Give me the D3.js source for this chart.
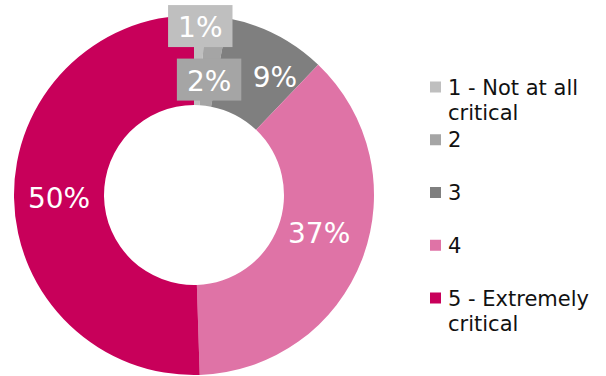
<!DOCTYPE html>
<html>
<head>
<meta charset="utf-8">
<script src="https://cdn.jsdelivr.net/npm/d3@7"></script>
<style>
  html, body { margin: 0; padding: 0; background: #fff; }
  svg { display: block; font-family: "DejaVu Sans", Verdana, sans-serif; }
</style>
</head>
<body>
<svg id="chart" width="606" height="376"></svg>
<script>
// Survey answers: how critical, share of respondents (%)
const categories = ["1 - Not at all critical", "2", "3", "4", "5 - Extremely critical"];
const legendLines = [["1 - Not at all", "critical"], ["2"], ["3"], ["4"], ["5 - Extremely", "critical"]];
const shares = [1, 2, 9, 37, 50];
const colors = ["#bfbfbf", "#a5a5a5", "#7f7f7f", "#df73a6", "#c8005a"];

// Layout
const W = 606, H = 376;
const cx = 194, cy = 195, outerR = 180, innerR = 90, labelR = 135;
const labelFont = 28, legendFont = 21;
// small nudges applied to label positions so crowded labels stay readable
const labelNudge = [[2, -33], [-2, 19.5], [19, 2], [-1, -10.5], [0, 0.5]];
const boxed = [true, true, false, false, false];

const svg = d3.select("#chart");
const g = svg.append("g").attr("transform", `translate(${cx},${cy})`);

const data = categories.map((c, i) => ({ cat: c, value: shares[i], i }));
const pie = d3.pie().value(d => d.value).sort(null);
const arcs = pie(data);
const arc = d3.arc().innerRadius(innerR).outerRadius(outerR);
const labelArc = d3.arc().innerRadius(labelR).outerRadius(labelR);

g.selectAll("path.slice")
  .data(arcs)
  .join("path")
  .attr("class", "slice")
  .attr("d", arc)
  .attr("fill", d => colors[d.data.i]);

// value labels
const labels = g.selectAll("g.lbl")
  .data(arcs)
  .join("g")
  .attr("class", "lbl")
  .attr("transform", d => {
    const [x, y] = labelArc.centroid(d);
    const n = labelNudge[d.data.i];
    return `translate(${x + n[0]},${y + n[1]})`;
  });

labels.append("text")
  .attr("text-anchor", "middle")
  .attr("dy", "0.36em")
  .attr("font-size", labelFont)
  .attr("fill", "#ffffff")
  .text(d => d.data.value + "%");

labels.each(function (d) {
  if (!boxed[d.data.i]) return;
  const sel = d3.select(this);
  const bb = sel.select("text").node().getBBox();
  const padX = 10;
  const h = 42;
  sel.insert("rect", "text")
    .attr("x", bb.x - padX)
    .attr("y", -h / 2 - 1)
    .attr("width", bb.width + padX * 2)
    .attr("height", h)
    .attr("fill", colors[d.data.i]);
});

// legend
const legendX = 430, legendY0 = 87, legendStep = 52.75, lineH = 25, sw = 11;
const leg = svg.append("g").selectAll("g")
  .data(categories)
  .join("g")
  .attr("transform", (d, i) => `translate(${legendX},${legendY0 + i * legendStep})`);

leg.append("rect")
  .attr("x", 0).attr("y", -sw / 2)
  .attr("width", sw).attr("height", sw)
  .attr("fill", (d, i) => colors[i]);

leg.append("text")
  .attr("font-size", legendFont)
  .attr("fill", "#111")
  .each(function (d, i) {
    d3.select(this).selectAll("tspan")
      .data(legendLines[i])
      .join("tspan")
      .attr("x", 18)
      .attr("y", (t, k) => k * lineH)
      .attr("dy", "0.36em")
      .text(t => t);
  });
</script>
</body>
</html>
